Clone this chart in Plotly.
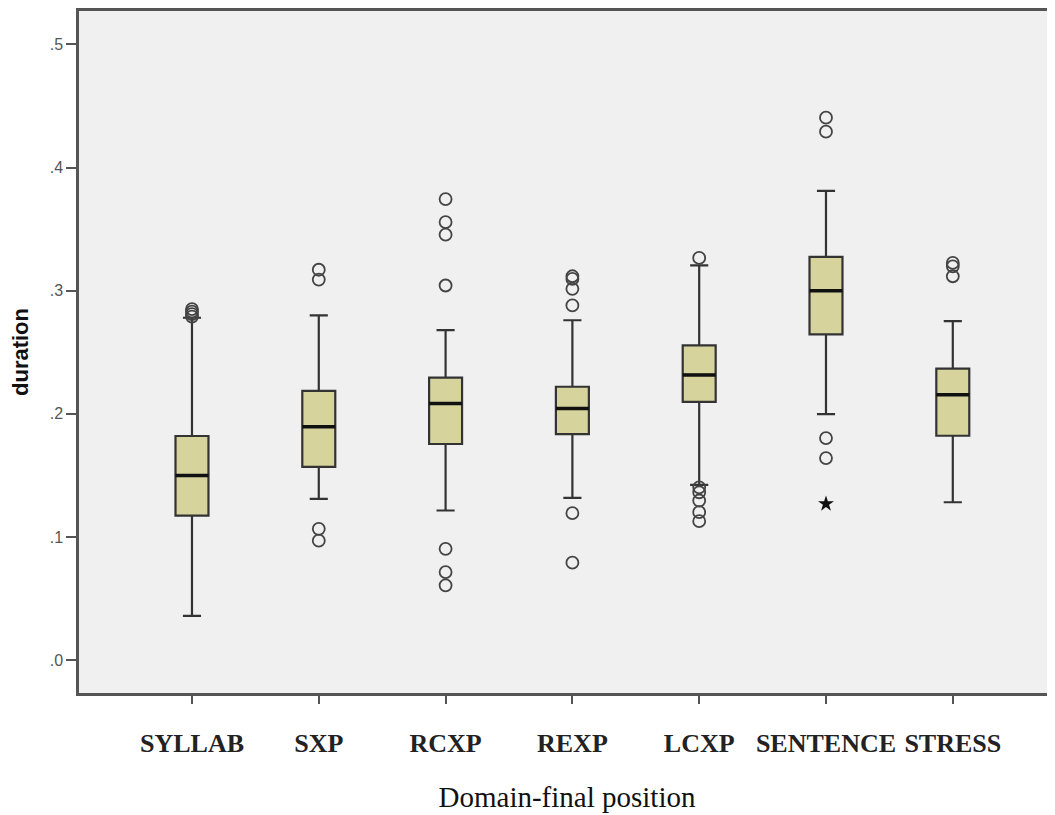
import plotly.graph_objects as go

categories = ["SYLLAB", "SXP", "RCXP", "REXP", "LCXP", "SENTENCE", "STRESS"]
q1 = [0.1174, 0.157, 0.1755, 0.1835, 0.2097, 0.2645, 0.1822]
median = [0.150, 0.1895, 0.2084, 0.2043, 0.2316, 0.300, 0.2154]
q3 = [0.182, 0.2186, 0.2294, 0.222, 0.2556, 0.3274, 0.2367]
lower_whisker = [0.036, 0.131, 0.1215, 0.1317, 0.1423, 0.1997, 0.1282]
upper_whisker = [0.278, 0.280, 0.268, 0.276, 0.3206, 0.3811, 0.2753]
outliers = [
    [0.279, 0.281, 0.283, 0.285],
    [0.317, 0.309, 0.1066, 0.097],
    [0.3744, 0.3557, 0.3455, 0.3042, 0.0904, 0.0715, 0.0607],
    [0.3117, 0.3095, 0.3015, 0.288, 0.1193, 0.0791],
    [0.3266, 0.1403, 0.1363, 0.1296, 0.1201, 0.1128],
    [0.4405, 0.4291, 0.1803, 0.1641],
    [0.3225, 0.3198, 0.3117],
]
extremes = [[], [], [], [], [], [0.1269], []]
ytick_vals = [0.0, 0.1, 0.2, 0.3, 0.4, 0.5]
ytick_labels = [".0", ".1", ".2", ".3", ".4", ".5"]

box_fill = "#D6D39C"
edge = "#333333"
box_w = 0.26

fig = go.Figure()
xs = list(range(len(categories)))
fig.add_trace(go.Box(
    x=xs, q1=q1, median=median, q3=q3,
    lowerfence=lower_whisker, upperfence=upper_whisker,
    width=box_w, whiskerwidth=0.55,
    fillcolor=box_fill, line=dict(color=edge, width=2.2),
    boxpoints=False, showlegend=False, hoverinfo="skip",
))
# thicker median lines
mx, my = [], []
for i, m in enumerate(median):
    mx += [i - box_w / 2, i + box_w / 2, None]
    my += [m, m, None]
fig.add_trace(go.Scatter(x=mx, y=my, mode="lines",
                         line=dict(color="#111111", width=3.5),
                         showlegend=False, hoverinfo="skip"))
ox, oy = [], []
for i, vals in enumerate(outliers):
    for v in vals:
        ox.append(i)
        oy.append(v)
fig.add_trace(go.Scatter(x=ox, y=oy, mode="markers",
                         marker=dict(symbol="circle-open", size=12,
                                     color="#444444", line=dict(width=1.8)),
                         showlegend=False, hoverinfo="skip"))
ex, ey = [], []
for i, vals in enumerate(extremes):
    for v in vals:
        ex.append(i)
        ey.append(v)
fig.add_trace(go.Scatter(x=ex, y=ey, mode="markers",
                         marker=dict(symbol="star", size=12, color="#111111"),
                         showlegend=False, hoverinfo="skip"))

fig.update_layout(
    width=1047, height=807,
    margin=dict(l=71, r=0, t=1, b=122),
    paper_bgcolor="white", plot_bgcolor="#F0F0F0",
    xaxis=dict(
        range=[-0.891, 6.806], tickvals=xs, ticktext=categories,
        showgrid=False, zeroline=False,
        showline=True, mirror=True, linecolor="#555555", linewidth=2.5,
        ticks="outside", ticklen=8, tickwidth=2, tickcolor="#555555",
        ticklabelstandoff=17,
        tickfont=dict(family="Liberation Serif", size=26, color="#222222",
                      weight="bold"),
        title=dict(text="Domain-final position", standoff=30,
                   font=dict(family="Liberation Serif", size=29, color="#111111")),
    ),
    yaxis=dict(
        range=[-0.0267, 0.5271], tickvals=ytick_vals, ticktext=ytick_labels,
        showgrid=False, zeroline=False,
        showline=True, linecolor="#555555", linewidth=2.5,
        ticks="outside", ticklen=10, tickwidth=2, tickcolor="#555555",
        tickfont=dict(family="Liberation Sans", size=16, color="#555555"),
        title=dict(text="<b>duration</b>", standoff=18,
                   font=dict(family="Liberation Sans", size=22, color="#111111")),
    ),
)
fig.write_html("out.html")
